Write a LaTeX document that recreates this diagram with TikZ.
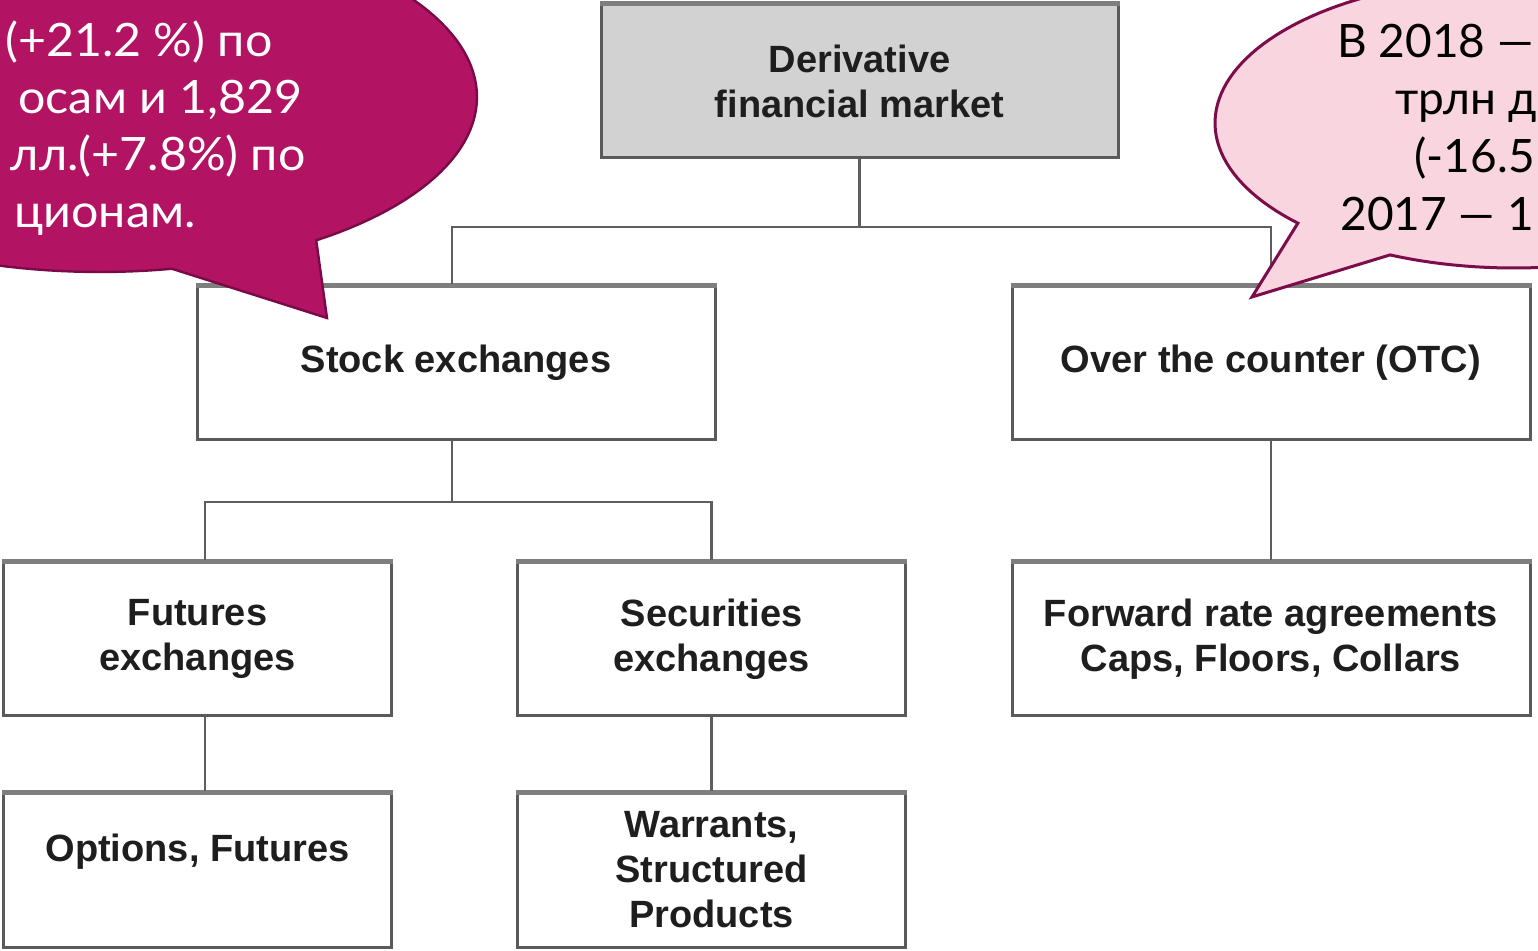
\documentclass[tikz,border=0pt]{standalone}
\usepackage{fontspec}
\setmainfont{Liberation Sans}
\newfontfamily\callfont[FakeStretch=1.05]{Lato}
\newfontfamily\callfontR{Lato}
\definecolor{boxgray}{HTML}{5A5A5A}
\definecolor{linegray}{HTML}{5E5E5E}
\definecolor{topgray}{HTML}{7E7E7E}
\definecolor{derivfill}{HTML}{D2D2D2}
\definecolor{textgray}{HTML}{1E1E1E}
\definecolor{magfill}{HTML}{B21363}
\definecolor{magline}{HTML}{7A0A47}
\definecolor{pinkfill}{HTML}{F8D5DF}
\definecolor{pinkline}{HTML}{7D0C4B}
\begin{document}
\begin{tikzpicture}[x=0.5pt,y=-0.5pt,
  box/.style={draw=boxgray, line width=1.5pt, fill=white, minimum height=77pt,
    inner sep=0pt, align=center, text=textgray,
    font=\fontsize{19}{22.5}\selectfont\bfseries},
  wide/.style={box, minimum width=259pt},
  narrow/.style={box, minimum width=194pt},
  topbar/.style={draw=topgray, line width=2.4pt},
  conn/.style={draw=linegray, line width=1.4pt},
  callL/.style={fill=magfill, draw=magline, line width=1.2pt, line join=miter},
  callR/.style={fill=pinkfill, draw=pinkline, line width=1.5pt, line join=miter},
  ctextL/.style={text=white, inner sep=0pt, font=\callfont\fontsize{23}{28.5}\selectfont, anchor=base east},
  ctextR/.style={text=black, inner sep=0pt, font=\callfontR\fontsize{23}{28.5}\selectfont, anchor=base west}
]
\useasboundingbox (0,0) rectangle (1538,951);
\fill[white] (0,0) rectangle (1538,951);

% boxes
\node[wide, fill=derivfill, minimum width=258.5pt] (deriv) at (859.5,81) {Derivative\\financial market};
\node[wide] (stock) at (456,363) {Stock exchanges};
\node[wide] (otc) at (1271,363) {Over the counter (OTC)};
\node[narrow] (fut) at (197.5,639) {Futures\\exchanges};
\node[narrow] (sec) at (711.5,639) {Securities\\exchanges};
\node[wide] (fra) at (1271,639) {Forward rate agreements\\Caps, Floors, Collars};
\node[narrow] (opt) at (197.5,870) {Options, Futures\\\mbox{}};
\node[narrow] (war) at (711.5,870) {Warrants,\\Structured\\Products};
\foreach \n in {deriv,stock,otc,fut,sec,fra,opt,war}
  \draw[topbar] ([yshift=-0.6pt]\n.north west) -- ([yshift=-0.6pt]\n.north east);

% connectors
\coordinate (b1) at (859.5,227);
\coordinate (b2) at (452,502);
\draw[conn] (deriv.south) -- (b1);
\draw[conn] ([xshift=-2pt]stock.north) |- (b1) -| (otc.north);
\draw[conn] ([xshift=-2pt]stock.south) -- (b2);
\draw[conn] ([xshift=3.75pt]fut.north) |- (b2) -| (sec.north);
\draw[conn] (otc.south) -- (fra.north);
\draw[conn] ([xshift=3.75pt]fut.south) -- ([xshift=3.75pt]opt.north);
\draw[conn] (sec.south) -- (war.north);

% callouts
\begin{scope}
\clip (0,0) rectangle (1538,951);
\filldraw[callL] plot[domain=79:415,samples=160] ({100+377*cos(\x)},{97+175*sin(\x)}) -- (327,318) -- cycle;
\node[ctextL] (l2) at (273,57) {(+21.2 \%) по};
\node[ctextL] (l3) at (303,114) {осам и 1,829};
\node[ctextL] (l4) at (306,171) {лл.(+7.8\%) по};
\node[ctextL] (l5) at (196,228) {ционам.};
\filldraw[callR] plot[domain=136.3:474.5,samples=160] ({1514+299*cos(\x)},{123+145*sin(\x)}) -- (1252,297) -- cycle;
\node[ctextR] (r1) at (1337,58) {В 2018 —};
\node[ctextR] (r2) at (1395,115) {трлн д};
\node[ctextR] (r3) at (1414,173) {(-16.5};
\node[ctextR] (r4) at (1340,231) {2017 — 1};
\end{scope}
\end{tikzpicture}
\end{document}
